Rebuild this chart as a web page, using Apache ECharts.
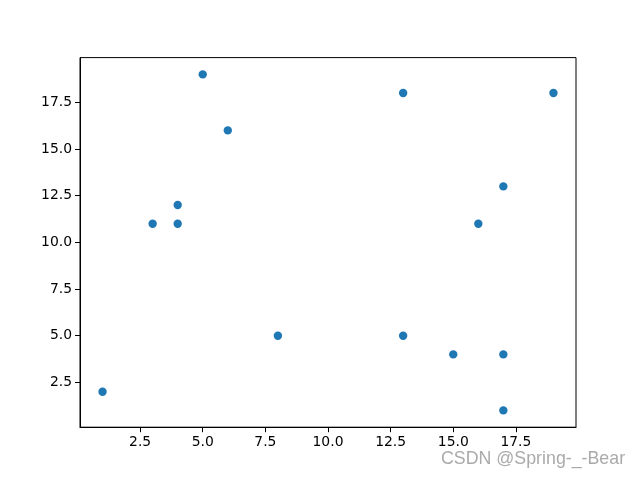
<!DOCTYPE html>
<html><head><meta charset="utf-8">
<script src="https://cdn.jsdelivr.net/npm/echarts@6/dist/echarts.min.js"></script>
<style>html,body{margin:0;padding:0;background:#fff}#c{width:640px;height:480px}</style>
</head><body><div id="c"></div>
<script>
const xValues = [1, 3, 4, 4, 5, 6, 8, 13, 13, 15, 16, 17, 17, 17, 19];
const yValues = [2, 11, 11, 12, 19, 16, 5, 18, 5, 4, 11, 13, 4, 1, 18];
const xTicks = [2.5, 5, 7.5, 10, 12.5, 15, 17.5];
const yTicks = [2.5, 5, 7.5, 10, 12.5, 15, 17.5];
const watermark = 'CSDN @Spring-_-Bear';

const pts = xValues.map((x, i) => [x, yValues[i]]);
const font = 'DejaVu Sans';
function axisCommon(ticks) {
  return {
    type: 'value', min: 0.1, max: 19.9,
    splitLine: { show: false },
    axisLine: { show: true, onZero: false, lineStyle: { color: '#000', width: 1 } },
    axisTick: { show: true, length: 5, lineStyle: { color: '#000', width: 1 }, customValues: ticks },
    axisLabel: { show: true, color: '#000', fontFamily: font, fontSize: 13.9, margin: 8,
      customValues: ticks, formatter: v => Number(v).toFixed(1) }
  };
}
const chart = echarts.init(document.getElementById('c'), null, { renderer: 'canvas' });
chart.setOption({
  animation: false,
  backgroundColor: '#fff',
  grid: { left: 80, right: 64, top: 57.6, bottom: 52.8, show: true, borderColor: '#000', borderWidth: 1 },
  xAxis: axisCommon(xTicks),
  yAxis: axisCommon(yTicks),
  graphic: [{ type: 'text', left: 441, top: 450,
    style: { text: watermark, fill: '#aaaaaa', font: '17.8px "Liberation Sans"' } }],
  series: [{ type: 'scatter', data: pts, symbolSize: 8.4, itemStyle: { color: '#1f77b4', opacity: 1 } }]
});
</script></body></html>
